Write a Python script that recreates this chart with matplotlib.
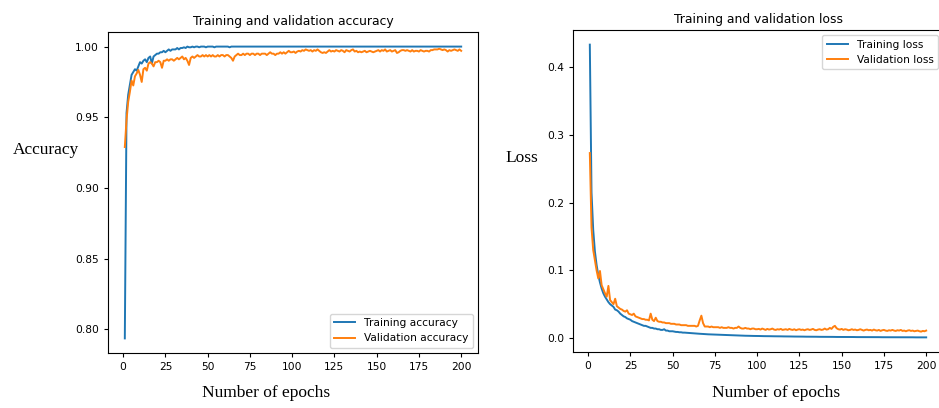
import numpy as np
import matplotlib
matplotlib.use("Agg")
import matplotlib.pyplot as plt

epochs = list(range(1, 201))

train_acc = [
    0.7937, 0.953, 0.966, 0.973, 0.980, 0.982, 0.984, 0.983, 0.986, 0.989,
    0.988, 0.990, 0.991, 0.989, 0.992, 0.993, 0.988, 0.993, 0.994, 0.995,
    0.995, 0.996, 0.996, 0.997, 0.996, 0.997, 0.998, 0.997, 0.998, 0.998,
    0.998, 0.999, 0.998, 0.999, 0.999, 0.9995, 0.999, 1.0, 0.9995, 0.9995,
    1.0, 0.9995, 1.0, 1.0, 0.9995, 1.0, 1.0, 1.0, 0.9995, 1.0,
    1.0, 1.0, 1.0, 0.9995, 1.0, 1.0, 1.0, 1.0, 1.0, 1.0,
    1.0, 1.0, 0.9995, 1.0, 1.0, 1.0, 1.0, 1.0, 1.0, 1.0,
    1.0, 1.0, 1.0, 1.0, 1.0, 1.0, 1.0, 1.0, 1.0, 1.0,
    1.0, 1.0, 1.0, 1.0, 1.0, 1.0, 1.0, 1.0, 1.0, 1.0,
    1.0, 1.0, 1.0, 1.0, 1.0, 1.0, 1.0, 1.0, 1.0, 1.0,
    1.0, 1.0, 1.0, 1.0, 1.0, 1.0, 1.0, 1.0, 1.0, 1.0,
    1.0, 1.0, 1.0, 1.0, 1.0, 1.0, 1.0, 1.0, 1.0, 1.0,
    1.0, 1.0, 1.0, 1.0, 1.0, 1.0, 1.0, 1.0, 1.0, 1.0,
    1.0, 1.0, 1.0, 1.0, 1.0, 1.0, 1.0, 1.0, 1.0, 1.0,
    1.0, 1.0, 1.0, 1.0, 1.0, 1.0, 1.0, 1.0, 1.0, 1.0,
    1.0, 1.0, 1.0, 1.0, 1.0, 1.0, 1.0, 1.0, 1.0, 1.0,
    1.0, 1.0, 1.0, 1.0, 1.0, 1.0, 1.0, 1.0, 1.0, 1.0,
    1.0, 1.0, 1.0, 1.0, 1.0, 1.0, 1.0, 1.0, 1.0, 1.0,
    1.0, 1.0, 1.0, 1.0, 1.0, 1.0, 1.0, 1.0, 1.0, 1.0,
    1.0, 1.0, 1.0, 1.0, 1.0, 1.0, 1.0, 1.0, 1.0, 1.0,
]

val_acc = [
    0.929, 0.948, 0.961, 0.968, 0.976, 0.9725, 0.979, 0.981, 0.9835, 0.980,
    0.975, 0.984, 0.985, 0.983, 0.988, 0.989, 0.988, 0.986, 0.989, 0.989,
    0.990, 0.989, 0.985, 0.990, 0.990, 0.991, 0.990, 0.991, 0.991, 0.990,
    0.991, 0.992, 0.991, 0.992, 0.993, 0.991, 0.992, 0.990, 0.987, 0.992,
    0.993, 0.992, 0.993, 0.994, 0.993, 0.993, 0.994, 0.993, 0.994, 0.993,
    0.994, 0.993, 0.994, 0.993, 0.993, 0.994, 0.993, 0.994, 0.994, 0.993,
    0.994, 0.994, 0.993, 0.992, 0.990, 0.993, 0.994, 0.995, 0.994, 0.994,
    0.995, 0.994, 0.995, 0.995, 0.994, 0.995, 0.995, 0.994, 0.995, 0.995,
    0.994, 0.995, 0.995, 0.995, 0.994, 0.995, 0.996, 0.995, 0.995, 0.994,
    0.995, 0.995, 0.996, 0.995, 0.996, 0.995, 0.996, 0.997, 0.996, 0.996,
    0.9965, 0.9955, 0.9965, 0.997, 0.9965, 0.9975, 0.9970, 0.9980, 0.9975, 0.9970,
    0.9975, 0.9965, 0.9975, 0.9970, 0.9980, 0.9970, 0.9960, 0.9955, 0.9960, 0.9955,
    0.9965, 0.9975, 0.9965, 0.9970, 0.9965, 0.9975, 0.9970, 0.9965, 0.9975, 0.9970,
    0.9960, 0.9975, 0.9970, 0.9965, 0.9975, 0.9980, 0.9965, 0.9970, 0.9960, 0.9965,
    0.9960, 0.9965, 0.9970, 0.9960, 0.9965, 0.9970, 0.9965, 0.9960, 0.9965, 0.9970,
    0.9975, 0.9965, 0.9975, 0.9970, 0.9980, 0.9965, 0.9970, 0.9975, 0.9965, 0.9970,
    0.9975, 0.9955, 0.9960, 0.9970, 0.9975, 0.9975, 0.9970, 0.9975, 0.9970, 0.9965,
    0.9975, 0.9965, 0.9970, 0.9970, 0.9965, 0.9975, 0.9970, 0.9965, 0.9970, 0.9970,
    0.9965, 0.9975, 0.9975, 0.9980, 0.9980, 0.9980, 0.9985, 0.9980, 0.9975, 0.9980,
    0.9975, 0.9965, 0.9975, 0.9970, 0.9975, 0.9980, 0.9975, 0.9970, 0.9980, 0.9970,
]

train_loss = [
    0.433, 0.215, 0.160, 0.128, 0.108, 0.093, 0.082, 0.073, 0.066, 0.061,
    0.057, 0.053, 0.050, 0.048, 0.046, 0.042, 0.041, 0.039, 0.036, 0.034,
    0.032, 0.031, 0.029, 0.028, 0.027, 0.025, 0.024, 0.023, 0.022, 0.021,
    0.020, 0.019, 0.018, 0.018, 0.017, 0.016, 0.015, 0.015, 0.014, 0.014,
    0.013, 0.013, 0.012, 0.012, 0.013, 0.011, 0.011, 0.010, 0.010, 0.010,
    0.0095, 0.0090, 0.0090, 0.0085, 0.0085, 0.0080, 0.0080, 0.0078, 0.0075, 0.0075,
    0.0072, 0.0070, 0.0068, 0.0066, 0.0065, 0.0063, 0.0062, 0.0060, 0.0058, 0.0057,
    0.0055, 0.0054, 0.0053, 0.0052, 0.0050, 0.0049, 0.0048, 0.0047, 0.0046, 0.0045,
    0.0044, 0.0043, 0.0042, 0.0041, 0.0040, 0.0039, 0.0039, 0.0038, 0.0037, 0.0036,
    0.0036, 0.0035, 0.0034, 0.0034, 0.0033, 0.0032, 0.0032, 0.0031, 0.0031, 0.0030,
    0.0030, 0.0029, 0.0029, 0.0028, 0.0028, 0.0028, 0.0027, 0.0027, 0.0026, 0.0026,
    0.0026, 0.0025, 0.0025, 0.0025, 0.0024, 0.0024, 0.0024, 0.0023, 0.0023, 0.0023,
    0.0022, 0.0022, 0.0022, 0.0022, 0.0021, 0.0021, 0.0021, 0.0020, 0.0020, 0.0020,
    0.0020, 0.0019, 0.0019, 0.0019, 0.0019, 0.0018, 0.0018, 0.0018, 0.0018, 0.0018,
    0.0017, 0.0017, 0.0017, 0.0017, 0.0017, 0.0016, 0.0016, 0.0016, 0.0016, 0.0016,
    0.0016, 0.0015, 0.0015, 0.0015, 0.0015, 0.0015, 0.0015, 0.0014, 0.0014, 0.0014,
    0.0014, 0.0014, 0.0014, 0.0014, 0.0013, 0.0013, 0.0013, 0.0013, 0.0013, 0.0013,
    0.0013, 0.0013, 0.0012, 0.0012, 0.0012, 0.0012, 0.0012, 0.0012, 0.0012, 0.0012,
    0.0012, 0.0011, 0.0011, 0.0011, 0.0011, 0.0011, 0.0011, 0.0011, 0.0011, 0.0011,
    0.0011, 0.0011, 0.0010, 0.0010, 0.0010, 0.0010, 0.0010, 0.0010, 0.0010, 0.0010,
]

val_loss = [
    0.273, 0.163, 0.130, 0.115, 0.100, 0.088, 0.099, 0.078, 0.072, 0.066,
    0.061, 0.077, 0.056, 0.053, 0.050, 0.058, 0.047, 0.045, 0.043, 0.042,
    0.040, 0.039, 0.041, 0.036, 0.035, 0.034, 0.036, 0.032, 0.031, 0.030,
    0.029, 0.028, 0.028, 0.027, 0.027, 0.026, 0.036, 0.027, 0.025, 0.030,
    0.025, 0.024, 0.024, 0.023, 0.023, 0.022, 0.022, 0.022, 0.021, 0.021,
    0.021, 0.020, 0.020, 0.020, 0.019, 0.019, 0.019, 0.019, 0.018, 0.018,
    0.018, 0.018, 0.018, 0.017, 0.018, 0.026, 0.033, 0.022, 0.017, 0.017,
    0.017, 0.016, 0.017, 0.016, 0.016, 0.016, 0.016, 0.015, 0.016, 0.015,
    0.015, 0.015, 0.016, 0.015, 0.015, 0.014, 0.015, 0.015, 0.017, 0.015,
    0.014, 0.014, 0.015, 0.014, 0.014, 0.013, 0.014, 0.014, 0.013, 0.013,
    0.0135, 0.0125, 0.0140, 0.0130, 0.0120, 0.0135, 0.0125, 0.0130, 0.0140, 0.0125,
    0.0120, 0.0130, 0.0125, 0.0135, 0.0120, 0.0125, 0.0130, 0.0120, 0.0135, 0.0125,
    0.0120, 0.0130, 0.0115, 0.0125, 0.0130, 0.0120, 0.0125, 0.0115, 0.0125, 0.0130,
    0.0120, 0.0125, 0.0135, 0.0120, 0.0115, 0.0125, 0.0130, 0.0120, 0.0125, 0.0140,
    0.0125, 0.0130, 0.0150, 0.0135, 0.0165, 0.0180, 0.0145, 0.0130, 0.0125, 0.0135,
    0.0120, 0.0130, 0.0125, 0.0115, 0.0120, 0.0130, 0.0120, 0.0125, 0.0115, 0.0120,
    0.0130, 0.0120, 0.0110, 0.0120, 0.0125, 0.0115, 0.0120, 0.0110, 0.0125, 0.0115,
    0.0110, 0.0120, 0.0105, 0.0115, 0.0120, 0.0110, 0.0105, 0.0115, 0.0110, 0.0120,
    0.0110, 0.0105, 0.0115, 0.0110, 0.0120, 0.0105, 0.0110, 0.0100, 0.0110, 0.0115,
    0.0105, 0.0110, 0.0100, 0.0105, 0.0110, 0.0100, 0.0095, 0.0105, 0.0100, 0.0110,
]

BLUE = "#1f77b4"
ORANGE = "#ff7f0e"
TICK_FS = 7.7
LW = 1.4
SERIF = ["Liberation Serif", "DejaVu Serif"]

fig = plt.figure(figsize=(9.39, 4.08), dpi=100)
ax1 = fig.add_axes([108 / 939, 55 / 408, 370 / 939, 321 / 408])
ax2 = fig.add_axes([573 / 939, 56 / 408, 370 / 939, 322 / 408])

for ax in (ax1, ax2):
    ax.tick_params(labelsize=TICK_FS, length=3, width=0.8)
    for s in ax.spines.values():
        s.set_linewidth(0.8)

ax1.plot(epochs, train_acc, color=BLUE, lw=LW, label="Training accuracy")
ax1.plot(epochs, val_acc, color=ORANGE, lw=LW, label="Validation accuracy")
ax1.set_title("Training and validation accuracy", fontsize=8.9, pad=5)
ax1.set_xticks([0, 25, 50, 75, 100, 125, 150, 175, 200])
ax1.set_yticks([0.80, 0.85, 0.90, 0.95, 1.00])
ax1.set_ylabel("Accuracy", family=SERIF, fontsize=12.5, rotation=0, ha="center", va="center")
ax1.yaxis.set_label_coords(-0.168, 0.632)
ax1.set_xlabel("Number of epochs", family=SERIF, fontsize=12.5, ha="center", va="center")
ax1.xaxis.set_label_coords(0.427, -0.125)
ax1.legend(loc="lower right", fontsize=TICK_FS)

ax2.plot(epochs, train_loss, color=BLUE, lw=LW, label="Training loss")
ax2.plot(epochs, val_loss, color=ORANGE, lw=LW, label="Validation loss")
ax2.set_title("Training and validation loss", fontsize=8.9, pad=5)
ax2.set_xticks([0, 25, 50, 75, 100, 125, 150, 175, 200])
ax2.set_yticks([0.0, 0.1, 0.2, 0.3, 0.4])
ax2.set_ylabel("Loss", family=SERIF, fontsize=12.5, rotation=0, ha="center", va="center")
ax2.yaxis.set_label_coords(-0.138, 0.602)
ax2.set_xlabel("Number of epochs", family=SERIF, fontsize=12.5, ha="center", va="center")
ax2.xaxis.set_label_coords(0.549, -0.127)
ax2.legend(loc="upper right", fontsize=TICK_FS)

fig.savefig("out.png", dpi=100)
